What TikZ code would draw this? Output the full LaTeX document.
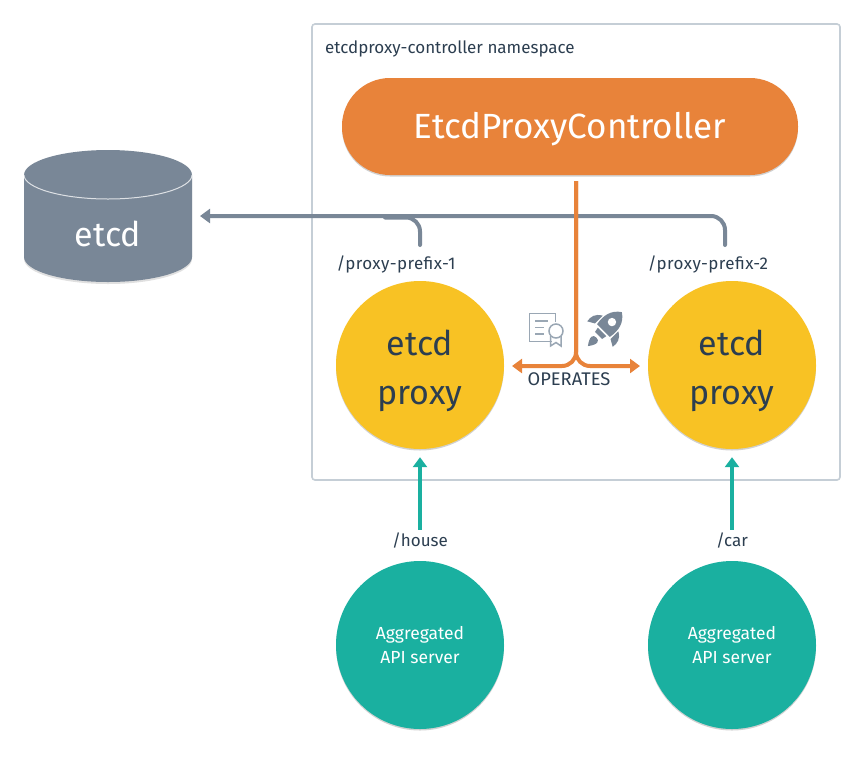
\documentclass[tikz,border=0pt]{standalone}
\usepackage{fontspec}
\setmainfont{Fira Sans}
\usetikzlibrary{arrows.meta,shadows}
\definecolor{cOrange}{HTML}{E8833A}
\definecolor{cYellow}{HTML}{F8C224}
\definecolor{cTeal}{HTML}{1AB0A0}
\definecolor{cGrey}{HTML}{798797}
\definecolor{cInk}{HTML}{2C3E50}
\definecolor{cBorder}{HTML}{C5CED6}
\definecolor{cCert}{HTML}{9AA7B4}
\tikzset{
  soft/.style={drop shadow={shadow xshift=0pt,shadow yshift=-1.5pt,opacity=.18,fill=black}},
  disc/.style={circle,minimum size=168pt,inner sep=0pt,soft},
  proxytext/.style={text=cInk,align=center,font=\fontsize{34}{49}\selectfont},
  apitext/.style={text=white,align=center,font=\fontsize{17.5}{24}\selectfont},
  lbl/.style={text=cInk,font=\fontsize{17}{20}\selectfont,inner sep=0pt},
  head/.style={-{Triangle[width=14pt,length=10pt]}},
  greyline/.style={draw=cGrey,line width=4pt,rounded corners=14pt},
  orangeline/.style={draw=cOrange,line width=4pt,rounded corners=14pt,head},
  tealarrow/.style={draw=cTeal,line width=4pt,head,shorten >=8pt},
}
\begin{document}
\begin{tikzpicture}[x=1pt,y=-1pt]
\useasboundingbox (0,0) rectangle (864,756);
% namespace frame
\node[draw=cBorder,line width=1.6pt,rounded corners=3pt,fill=white,minimum width=528pt,minimum height=456pt,inner sep=0pt] (ns) at (576,252) {};
\node[lbl,anchor=west] (nslabel) at (325,48.5) {etcdproxy-controller namespace};
% controller
\node[fill=cOrange,rounded corners=48pt,minimum width=456pt,minimum height=97pt,inner sep=0pt,soft] (ctrl) at (570,126.5) {};
\node[text=white,font=\fontsize{35}{40}\selectfont] (ctrltext) at (570,129.5) {EtcdProxyController};
% etcd cylinder
\node[minimum width=168pt,minimum height=132pt,inner sep=0pt] (db) at (108,216) {};
\fill[black,opacity=.12] (24,177) -- (24,259) .. controls (24,273) and (62,284) .. (108,284) .. controls (154,284) and (192,273) .. (192,259) -- (192,177) -- cycle;
\fill[cGrey] (24,175) .. controls (24,161) and (62,150) .. (108,150) .. controls (154,150) and (192,161) .. (192,175) -- (192,257) .. controls (192,271) and (154,282) .. (108,282) .. controls (62,282) and (24,271) .. (24,257) -- cycle;
\draw[white,opacity=.75,line width=1pt] (24,175) .. controls (24,188) and (62,199) .. (108,199) .. controls (154,199) and (192,188) .. (192,175);
\node[text=white,font=\fontsize{34}{40}\selectfont] (dblabel) at (108,234) {etcd};
% proxies
\node[disc,fill=cYellow] (p1) at (420,365) {};
\node[disc,fill=cYellow] (p2) at (732,365) {};
\node[proxytext] (p1text) at (420,371) {etcd\\proxy};
\node[proxytext] (p2text) at (732,371) {etcd\\proxy};
\node[lbl] (pp1) at (396,264) {\addfontfeature{LetterSpace=2.5}/proxy-prefix-1};
\node[lbl] (pp2) at (708,264) {\addfontfeature{LetterSpace=2.5}/proxy-prefix-2};
% API servers
\node[disc,fill=cTeal] (a1) at (420,645) {};
\node[disc,fill=cTeal] (a2) at (732,645) {};
\node[apitext] (a1text) at (420,645) {Aggregated\\API server};
\node[apitext] (a2text) at (732,645) {Aggregated\\API server};
\node[lbl] (house) at (420,540.5) {/house};
\node[lbl] (car) at (732,540.5) {/car};
% coordinates for free ends
\coordinate (g1) at (420,245);
\coordinate (g2) at (725,245);
\coordinate (dbarrow) at (200,216);
\coordinate (oTop) at (576,181);
\coordinate (oL) at (512,366);
\coordinate (oR) at (640,366);
% grey connectors
\draw[greyline,line cap=round] (g1) -- (420,217.5) -- (385,217.5);
\draw[greyline,line cap=round,head] (g2) -- (725,216) -- (dbarrow);
% orange connectors
\draw[orangeline] (oTop) -- (576,366) -- (oL);
\draw[orangeline] (oTop) -- (576,366) -- (oR);
\node[lbl,font=\fontsize{18.3}{20}\selectfont] (ops) at (569,379) {OPERATES};
% teal arrows
\draw[tealarrow] (house.north) ++(0,-3) -- (p1.south);
\draw[tealarrow] (car.north) ++(0,-3) -- (p2.south);
% certificate icon
\draw[cCert,line width=1.5pt] (552,341.5) -- (529.5,341.5) -- (529.5,313.5) -- (555.5,313.5) -- (555.5,322);
\draw[cCert,line width=1.5pt] (535,321) -- (548,321) (535,327.5) -- (544,327.5) (535,334) -- (544,334);
\draw[cCert,line width=1.5pt] (556,331) circle (7);
\draw[cCert,line width=1.5pt] (550.5,336) -- (550.5,346) -- (556,342.5) -- (561,346) -- (561,336);
% rocket icon
\begin{scope}[shift={(607,327)},rotate=-45]
\fill[cGrey] (0,-21) .. controls (9,-15) and (11,-6) .. (9,5) -- (-9,5) .. controls (-11,-6) and (-9,-15) .. (0,-21) -- cycle;
\fill[cGrey] (-11,-5) .. controls (-18,-1) and (-19,4) .. (-18,10) -- (-11,6) -- cycle;
\fill[cGrey] (11,-5) .. controls (18,-1) and (19,4) .. (18,10) -- (11,6) -- cycle;
\fill[cGrey] (-6,7) -- (6,7) -- (5,12) -- (-5,12) -- cycle;
\fill[white] (0,-7) circle (4.2);
\fill[cGrey] (0,15) .. controls (5,15) and (6,19) .. (0,27) .. controls (-6,19) and (-5,15) .. (0,15) -- cycle;
\end{scope}
\end{tikzpicture}
\end{document}
